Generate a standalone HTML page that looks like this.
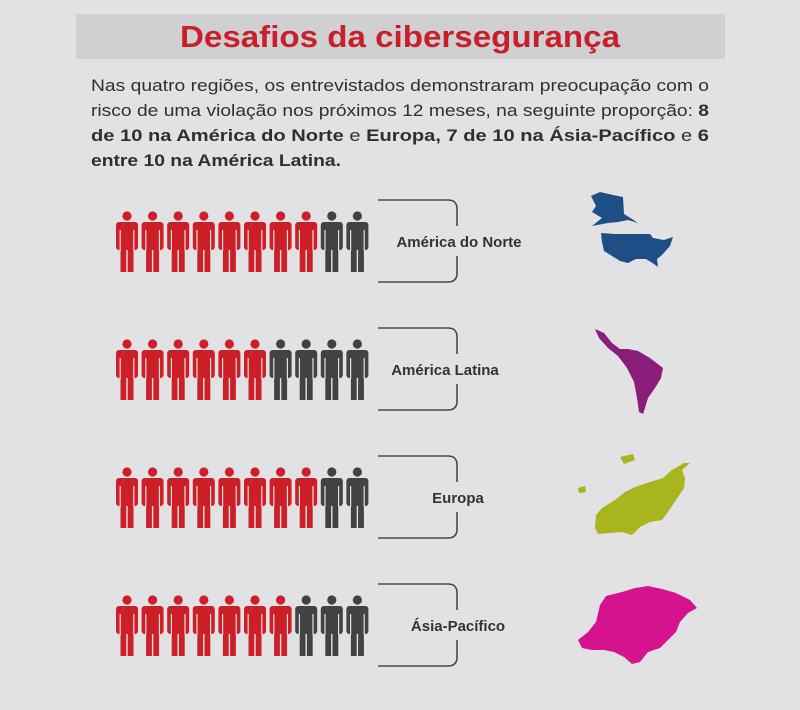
<!DOCTYPE html>
<html><head><meta charset="utf-8"><style>
html,body{margin:0;padding:0;background:#e2e2e4;}
svg{display:block;font-family:"Liberation Sans",sans-serif;}
</style></head><body>
<svg width="800" height="710" viewBox="0 0 800 710" xmlns="http://www.w3.org/2000/svg">
<defs>
<g id="p">
  <circle cx="11" cy="-25" r="4.6"/>
  <rect x="0" y="-19" width="22" height="28" rx="3"/>
  <rect x="4.5" y="5" width="13" height="26"/>
  <line x1="4.2" y1="-11" x2="4.2" y2="10" stroke="#e2e2e4" stroke-width="1.2"/>
  <line x1="17.8" y1="-11" x2="17.8" y2="10" stroke="#e2e2e4" stroke-width="1.2"/>
  <line x1="11" y1="9" x2="11" y2="32" stroke="#e2e2e4" stroke-width="1.4"/>
</g>
<path id="br" d="M378,-41 H448 Q457,-41 457,-32 V-15 M457,15 V32 Q457,41 448,41 H378" fill="none" stroke="#4a4a4a" stroke-width="1.6"/>
</defs>
<rect width="800" height="710" fill="#e2e2e4"/>
<rect x="76" y="14" width="649" height="45" fill="#d0d0d2"/>
<text x="400" y="47" text-anchor="middle" font-size="31" font-weight="bold" fill="#c8202a" textLength="440" lengthAdjust="spacingAndGlyphs">Desafios da cibersegurança</text>
<g font-size="17" fill="#2f2f2f">
<text x="91" y="91" textLength="618" lengthAdjust="spacingAndGlyphs">Nas quatro regiões, os entrevistados demonstraram preocupação com o</text>
<text x="91" y="116" textLength="618" lengthAdjust="spacingAndGlyphs">risco de uma violação nos próximos 12 meses,  na seguinte proporção: <tspan font-weight="bold">8</tspan></text>
<text x="91" y="141" textLength="618" lengthAdjust="spacingAndGlyphs"><tspan font-weight="bold">de 10 na América do Norte</tspan> e <tspan font-weight="bold">Europa, 7 de 10 na Ásia-Pacífico</tspan> e <tspan font-weight="bold">6</tspan></text>
<text x="91" y="166" font-weight="bold" textLength="250" lengthAdjust="spacingAndGlyphs">entre 10 na América Latina.</text>
</g>

<!-- rows -->
<g id="rows">
<g transform="translate(0,241)">
 <g fill="#cc1f27">
 <use href="#p" x="116"/><use href="#p" x="141.6"/><use href="#p" x="167.2"/><use href="#p" x="192.8"/><use href="#p" x="218.4"/><use href="#p" x="244"/><use href="#p" x="269.6"/><use href="#p" x="295.2"/>
 </g><g fill="#424244"><use href="#p" x="320.8"/><use href="#p" x="346.4"/></g>
 <use href="#br"/>
 <text x="459" y="6" text-anchor="middle" font-size="15" font-weight="bold" fill="#333">América do Norte</text>
</g>
<g transform="translate(0,369)">
 <g fill="#cc1f27">
 <use href="#p" x="116"/><use href="#p" x="141.6"/><use href="#p" x="167.2"/><use href="#p" x="192.8"/><use href="#p" x="218.4"/><use href="#p" x="244"/>
 </g><g fill="#424244"><use href="#p" x="269.6"/><use href="#p" x="295.2"/><use href="#p" x="320.8"/><use href="#p" x="346.4"/></g>
 <use href="#br"/>
 <text x="445" y="6" text-anchor="middle" font-size="15" font-weight="bold" fill="#333">América Latina</text>
</g>
<g transform="translate(0,497)">
 <g fill="#cc1f27">
 <use href="#p" x="116"/><use href="#p" x="141.6"/><use href="#p" x="167.2"/><use href="#p" x="192.8"/><use href="#p" x="218.4"/><use href="#p" x="244"/><use href="#p" x="269.6"/><use href="#p" x="295.2"/>
 </g><g fill="#424244"><use href="#p" x="320.8"/><use href="#p" x="346.4"/></g>
 <use href="#br"/>
 <text x="458" y="6" text-anchor="middle" font-size="15" font-weight="bold" fill="#333">Europa</text>
</g>
<g transform="translate(0,625)">
 <g fill="#cc1f27">
 <use href="#p" x="116"/><use href="#p" x="141.6"/><use href="#p" x="167.2"/><use href="#p" x="192.8"/><use href="#p" x="218.4"/><use href="#p" x="244"/><use href="#p" x="269.6"/>
 </g><g fill="#424244"><use href="#p" x="295.2"/><use href="#p" x="320.8"/><use href="#p" x="346.4"/></g>
 <use href="#br"/>
 <text x="458" y="6" text-anchor="middle" font-size="15" font-weight="bold" fill="#333">Ásia-Pacífico</text>
</g>
</g>

<!-- maps -->
<g fill="#1d4f86">
 <polygon points="591,196 600,192 613,195 623,197 624,214 632,219 638,223 628,220 618,222 608,223 592,226 602,218 592,212 596,206"/>
 <polygon points="601,233 615,234 650,234 653,238 664,240 673,237 670,246 662,255 657,259 658,267 654,264 646,259 636,259 628,263 620,261 612,256 604,251 602,242"/>
</g>
<polygon fill="#8a1c7a" points="595,329 604,333 612,343 620,349 628,349 638,351 650,358 663,368 661,378 655,388 648,398 645,408 643,414 639,412 637,398 634,382 627,368 618,356 608,348 599,338"/>
<g fill="#a8b51e">
 <polygon points="578,488 585,486 586,492 579,493"/>
 <polygon points="620,457 633,454 635,460 624,464"/>
 <polygon points="595,528 596,515 602,508 615,500 625,492 635,487 650,482 663,478 672,470 684,463 690,463 682,470 685,478 684,488 676,500 668,512 662,520 650,522 640,527 632,535 622,532 610,533 598,534"/>
</g>
<g fill="#d6138f">
 <polygon points="578,640 588,632 596,622 600,605 606,596 622,592 635,588 648,586 662,589 676,593 690,600 697,608 688,613 680,622 676,632 668,640 660,648 648,652 640,662 632,664 624,657 614,652 604,650 592,650 582,648"/>
</g>
</svg>
</body></html>
